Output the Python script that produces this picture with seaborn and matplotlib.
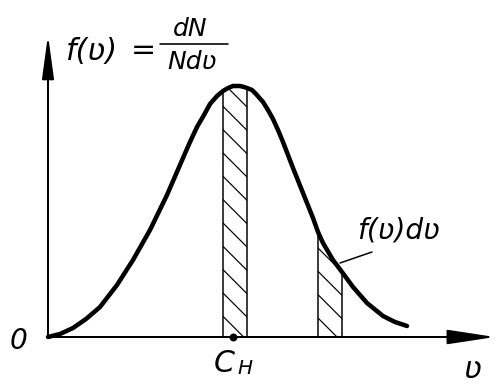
import matplotlib
matplotlib.use("Agg")
import matplotlib.pyplot as plt
import seaborn as sns
import numpy as np
from matplotlib.lines import Line2D

# Speed distribution curve f(v) (arbitrary units)
speed = [0.00, 0.12, 0.25, 0.38, 0.52, 0.69, 0.85, 1.02, 1.19, 1.35, 1.42, 1.49,
         1.56, 1.62, 1.69, 1.75, 1.80, 1.85, 1.92, 1.96, 1.99, 2.04, 2.08, 2.15,
         2.20, 2.25, 2.30, 2.35, 2.45, 2.55, 2.65, 2.70, 2.75, 2.85, 2.94, 3.05,
         3.19, 3.35, 3.47, 3.59]
density = [0.00, 0.03, 0.09, 0.18, 0.30, 0.52, 0.77, 1.07, 1.42, 1.79, 1.95, 2.10,
           2.22, 2.33, 2.41, 2.46, 2.49, 2.51, 2.51, 2.50, 2.49, 2.47, 2.43, 2.35,
           2.27, 2.18, 2.07, 1.95, 1.69, 1.44, 1.19, 1.05, 0.94, 0.77, 0.65, 0.50,
           0.34, 0.21, 0.15, 0.11]

# Hatched strips of width dv: around the most probable speed and on the tail
strips = [(1.75, 1.99), (2.70, 2.94)]
c_h = 1.85          # most probable speed
x_end = 4.47        # tip of the v axis
y_end = 3.02        # tip of the f(v) axis

DPI = 140
W, H = 497, 385
PT = 72 / DPI       # points per pixel

sns.set_style("white")
plt.rcParams["font.family"] = ["DejaVu Sans"]
plt.rcParams["hatch.linewidth"] = 1.2 * PT

fig = plt.figure(figsize=(W / DPI, H / DPI), dpi=DPI)
ax = fig.add_axes([0, 0, 1, 1])
ax.set_xlim(-0.48, 4.49)
ax.set_ylim(-0.48, 3.37)
ax.axis("off")

v = np.array(speed)
f = np.array(density)

# hatched areas f(v) dv
for lo, hi in strips:
    m = (v >= lo - 1e-9) & (v <= hi + 1e-9)
    ax.fill_between(v[m], 0, f[m], facecolor="none", edgecolor="black",
                    hatch="\\\\", linewidth=1.5 * PT)

# the distribution curve
sns.lineplot(x=speed, y=density, sort=False, estimator=None, color="black",
             linewidth=4.5 * PT, ax=ax, solid_capstyle="round",
             solid_joinstyle="round")

# axes with arrow heads
ax.annotate("", xy=(x_end, 0), xytext=(0, 0),
            arrowprops=dict(arrowstyle="-|>,head_length=21,head_width=3.2",
                            mutation_scale=1, lw=2 * PT, color="black",
                            shrinkA=0, shrinkB=0))
ax.annotate("", xy=(0, y_end), xytext=(0, -0.01),
            arrowprops=dict(arrowstyle="-|>,head_length=19,head_width=2.6",
                            mutation_scale=1, lw=2 * PT, color="black",
                            shrinkA=0, shrinkB=0))

# most probable speed marker
ax.scatter([c_h], [0], s=(6 * PT) ** 2, color="black", zorder=5)

txt = dict(color="black", style="italic")

def fx(x):
    return x / W

def fy(y):
    return 1 - y / H

# axis labels
fig.text(fx(19), fy(341), "0", ha="center", va="center", fontsize=28 * PT, **txt)
fig.text(fx(472), fy(369), "ʋ", ha="center", va="center", fontsize=30 * PT, **txt)
fig.text(fx(224), fy(363), "C", ha="center", va="center", fontsize=30 * PT, **txt)
fig.text(fx(245), fy(369), "Н", ha="center", va="center", fontsize=20 * PT, **txt)

# formula of the distribution function
fig.text(fx(66), fy(52), "f(ʋ)", ha="left", va="center", fontsize=30 * PT, **txt)
fig.text(fx(143), fy(51), "=", ha="center", va="center", fontsize=30 * PT, **txt)
fig.text(fx(190), fy(29), "dN", ha="center", va="center", fontsize=25 * PT, **txt)
fig.text(fx(192), fy(62), "Ndʋ", ha="center", va="center", fontsize=25 * PT, **txt)
fig.add_artist(Line2D([fx(160), fx(228)], [fy(44), fy(44)], color="black",
                      lw=1.6 * PT, transform=fig.transFigure))

# label of the tail strip with its leader
fig.text(fx(357), fy(231), "f(ʋ)dʋ", ha="left", va="center", fontsize=28 * PT, **txt)
ax.annotate("", xy=(2.92, 0.74), xytext=(3.24, 0.85),
            arrowprops=dict(arrowstyle="-", lw=1.5 * PT, color="black",
                            shrinkA=0, shrinkB=0))

fig.savefig("out.png", dpi=DPI, facecolor="white")
